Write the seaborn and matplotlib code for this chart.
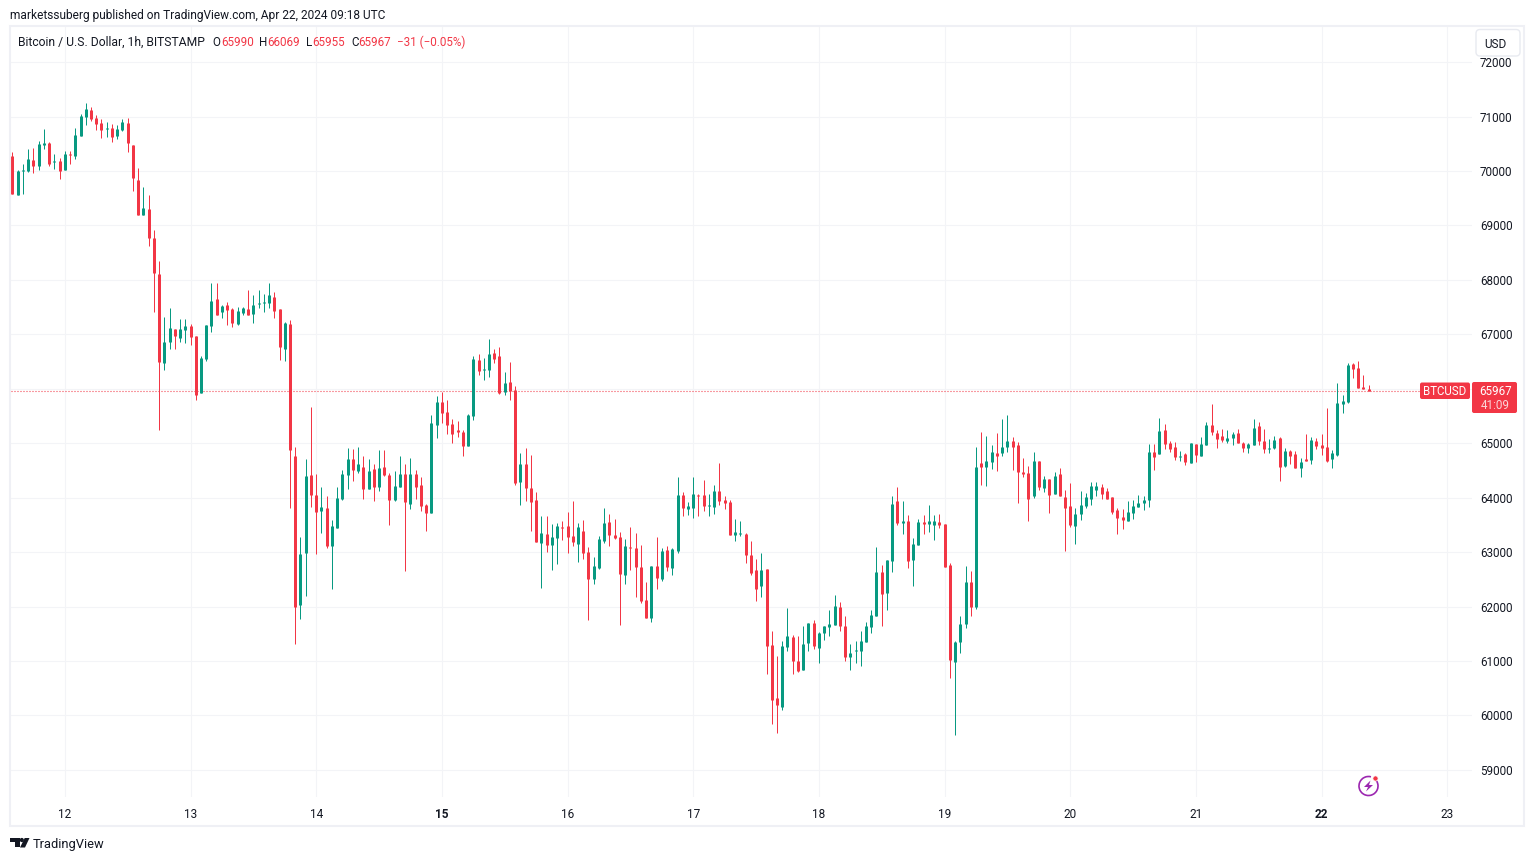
import matplotlib
matplotlib.use("Agg")
import matplotlib.pyplot as plt
from matplotlib.patches import FancyBboxPatch, Polygon, Circle, Rectangle, Arc
from matplotlib.transforms import ScaledTranslation
import numpy as np
import pandas as pd
import seaborn as sns

# Hourly BTC/USD candles, first candle = 10 hours before the "12" day tick
opens = [
70274,69558,69999,69999,70201,70091,70477,70513,70164,70183,
70017,70311,70274,70642,70991,71119,70972,70881,70770,70789,
70642,70752,70881,70477,69834,69191,69301,68768,68107,66473,
66858,67097,66932,67079,67152,66968,65922,66546,67152,67648,
67409,67538,67464,67189,67391,67464,67373,67556,67575,67575,
67685,67464,66730,67189,64765,62028,62983,64416,64048,63754,
63809,63112,63442,63975,64416,64709,64489,64562,64158,64526,
64195,64562,64416,63956,64195,64434,63883,64434,64232,63865,
63718,65334,65756,65573,65352,65242,65205,64948,65499,66528,
66344,66344,66656,66601,65940,66124,65977,64287,64618,64177,
63957,63167,63332,63130,63259,63461,63479,63295,63149,63387,
63002,62506,62708,63204,63553,63314,63277,62579,63093,63075,
62726,62120,61789,62745,62506,63038,62708,63020,64049,63791,
63810,64049,64049,63846,63828,64122,63957,63920,63315,63333,
63333,62947,62672,62378,62690,61294,60321,60156,61258,61441,
61000,60835,61331,61698,61239,61515,61625,61662,61992,61643,
61074,61184,61184,61349,61625,61827,62635,62249,62837,63939,
63535,63572,62855,63131,63553,63517,63498,63553,63517,62764,
60982,61349,61680,62450,62000,64637,64563,64655,64820,64820,
64930,65041,64967,64471,64453,64030,64673,64177,64343,64067,
64435,64012,63847,63480,63700,63847,63975,64141,64196,64122,
64012,63773,63645,63571,63718,63828,63902,63957,64839,64802,
65242,65004,64930,64746,64802,64636,64985,64765,64967,65334,
65187,65132,65040,65095,65187,65004,64912,64967,65316,65040,
64893,64912,65095,64581,64857,64802,64544,64710,64691,65040,
64967,64930,64710,64783,65720,65757,66455,66381,66032,65990]

highs = [
70348,70017,70128,70403,70421,70550,70770,70532,70311,70238,
70366,70366,70789,71046,71248,71174,71027,70954,70899,70862,
70844,70954,70972,70477,70054,69705,69558,68915,68346,67318,
67483,67097,67281,67281,67189,66968,66601,67171,67942,67942,
67538,67593,67483,67501,67501,67813,67721,67813,67740,67942,
67777,67464,67226,67262,64930,63277,64709,65664,64434,64195,
64030,63589,64195,64507,64911,64893,64930,64765,64709,64618,
64875,64875,64452,64489,64765,64618,64728,64507,64379,63883,
65518,65866,65940,65793,65444,65407,65242,65536,66601,66638,
66564,66913,66730,66766,66307,66491,66050,64820,64912,64783,
64104,63663,63663,63516,63534,63571,63736,63938,63534,63589,
63093,62910,63295,63810,63700,63608,63369,63240,63461,63351,
63130,62451,62745,63277,63075,63112,63075,64379,64104,63920,
64379,64067,64324,64067,64232,64636,64030,63957,63608,63572,
63351,63204,62874,62984,62690,61551,61092,61368,61974,61478,
61460,61643,61698,61753,61533,61643,61937,62213,62084,61827,
61313,61368,61551,61717,61937,63094,62764,62855,64031,64196,
63939,63682,63259,63608,63682,63865,63682,63700,63517,62800,
61368,61818,62745,62650,64930,65206,65132,64967,65188,65445,
65518,65114,65022,64728,64581,64839,64673,64398,64343,64471,
64545,64141,64269,63810,64122,64086,64288,64288,64251,64177,
64012,63810,63792,63939,63957,64049,64030,64986,64986,65463,
65353,65040,65022,64857,64820,65004,64985,65114,65389,65720,
65242,65261,65242,65206,65261,65022,65004,65444,65389,65261,
65077,65132,65114,64912,64875,64857,64728,65169,65114,65095,
65169,65646,64875,66106,65885,66473,66473,66510,66252,66069]

lows = [
69577,69558,69577,69981,69962,70017,70403,70091,70036,69852,
70017,70128,70219,70642,70844,70917,70752,70605,70623,70532,
70587,70734,70348,69632,69191,69191,68621,67409,65242,66344,
66730,66730,66858,66840,66803,65793,65922,66509,67042,67354,
67299,67171,67134,67171,67354,67354,67207,67483,67409,67483,
67299,66528,66509,63809,61312,61771,62193,63828,62965,63350,
63075,62322,63442,63956,64158,64305,64452,63975,64158,63938,
64122,64397,63497,63938,64195,62652,63791,63975,63754,63387,
63718,65095,65371,65169,65003,65113,64765,64948,65426,66252,
66160,66215,66473,65903,65885,65793,64232,63865,63938,63387,
63185,62340,63002,62671,62781,63222,62983,63112,62818,62873,
61753,62414,62689,63167,63112,63240,61661,62414,62671,62175,
62065,61789,61716,62322,62469,62653,62579,62983,63663,63681,
63626,63663,63755,63663,63700,63865,63791,63314,63204,63296,
62800,62580,62102,62176,60762,59843,59678,60100,61184,60762,
60798,60835,61184,61221,60964,61386,61460,61662,61551,61000,
60835,60964,60909,61349,61515,61827,61643,61937,62635,63498,
63333,62708,62378,63131,63333,63370,63223,63443,62727,60688,
59641,61150,61600,61820,61950,64233,64214,64526,64490,64765,
64839,64508,63902,64379,63571,63994,64141,64104,63718,64067,
64030,63020,63461,63149,63590,63810,63865,64030,63975,63975,
63700,63333,63424,63571,63608,63828,63773,63828,64508,64802,
64893,64838,64691,64673,64600,64636,64655,64765,64967,65151,
64912,65022,65004,64967,65004,64838,64820,64967,64967,64820,
64820,64893,64306,64563,64618,64544,64379,64673,64618,64893,
64783,64655,64544,64765,65555,65738,66197,66014,65995,65955]

closes = [
69577,69999,70017,70219,70091,70495,70513,70128,70183,69999,
70311,70293,70660,71009,71138,70954,70862,70752,70789,70623,
70770,70899,70513,69870,69191,69319,68768,68126,66491,66858,
67115,66968,67097,67152,66950,65885,66564,67171,67611,67354,
67519,67446,67207,67428,67483,67354,67538,67575,67593,67721,
67428,66766,67207,64875,61991,62965,64397,64048,63736,63828,
63112,63479,63993,64434,64709,64507,64618,64158,64489,64195,
64544,64416,63956,64214,64434,63920,64434,64195,63846,63718,
65371,65756,65554,65334,65169,65205,64948,65518,66546,66326,
66362,66638,66546,65922,66105,65958,64269,64618,64177,63920,
63185,63351,63130,63277,63479,63442,63277,63185,63461,62983,
62506,62745,63240,63534,63314,63259,62598,63112,63075,62726,
62102,61789,62745,62524,63020,62726,63057,64049,63810,63846,
64067,64030,63846,63865,64122,63938,63902,63314,63370,63351,
62947,62617,62323,62672,61276,60284,60192,61276,61460,61000,
60817,61313,61698,61276,61515,61643,61680,62011,61643,61074,
61147,61202,61368,61643,61845,62635,62231,62855,63884,63535,
63572,62837,63149,63553,63517,63572,63572,63498,62727,61019,
61349,61680,62450,62000,64563,64563,64673,64839,64765,64930,
65041,64930,64471,64435,63975,64673,64196,64343,64049,64398,
64030,63810,63498,63700,63865,64012,64214,64214,64067,63975,
63737,63626,63590,63737,63847,63902,63957,64839,64747,65224,
64985,64893,64746,64765,64655,65004,64783,64985,65334,65206,
65077,65059,65095,65169,65004,64912,64985,65279,65040,64893,
64912,65059,64563,64857,64765,64544,64655,64673,65059,64948,
64912,64673,64820,65738,65775,66436,66363,66014,65995,65967]

day_labels = [12, 13, 14, 15, 16, 17, 18, 19, 20, 21, 22, 23]
bold_days = [15, 22]
price_ticks = [59000, 60000, 61000, 62000, 63000, 64000, 65000,
               66000, 67000, 68000, 69000, 70000, 71000, 72000]
first_hour = -10
last_price = closes[-1]

UP, DOWN = "#089981", "#F23645"
GRID, FRAME, INK = "#f3f4f7", "#eff0f5", "#131722"
W, H = 1534, 862

sns.set_theme(style="white")
plt.rcParams["font.family"] = ["Roboto", "DejaVu Sans"]

hours = np.arange(len(opens)) + first_hour
df = pd.DataFrame({"hour": hours, "open": opens, "high": highs, "low": lows, "close": closes})
df["dir"] = np.where(df["close"] >= df["open"], "up", "down")
palette = {"up": UP, "down": DOWN}

wicks = df.melt(id_vars=["hour", "dir"], value_vars=["high", "low"], value_name="price")
bodies = df.melt(id_vars=["hour", "dir"], value_vars=["open", "close"], value_name="price")

fig = plt.figure(figsize=(W / 100, H / 100), dpi=100, facecolor="white")
L, R, T, B = 11, 1472, 28, 798
ax = fig.add_axes([L / W, 1 - B / H, (R - L) / W, (B - T) / H])

for frame, lw in ((wicks, 0.72), (bodies, 2.16)):
    sns.lineplot(data=frame, x="hour", y="price", hue="dir", units="hour", estimator=None,
                 palette=palette, linewidth=lw, legend=False, ax=ax, zorder=3,
                 solid_capstyle="butt", sort=False)

# px -> data scale
ax.set_xlim(-10.28, 268.72)
ax.set_ylim(58503, 72644)
ax.set_xlabel("")
ax.set_ylabel("")
for s in ax.spines.values():
    s.set_visible(False)
ax.set_axisbelow(True)
ax.grid(True, color=GRID, linewidth=0.8)

ax.axhline(last_price, xmin=0, xmax=(1420 - L) / (R - L), color=DOWN, linewidth=0.8,
           linestyle=(0, (0.9, 1.8)), zorder=2, dash_capstyle="butt")

ax.set_xticks([24 * (d - 12) for d in day_labels])
ax.set_xticklabels([str(d) for d in day_labels], fontsize=8.5, color=INK)
for lab, d in zip(ax.get_xticklabels(), day_labels):
    if d in bold_days:
        lab.set_fontweight("bold")
ax.yaxis.tick_right()
ax.set_yticks(price_ticks)
ax.set_yticklabels([str(p) for p in price_ticks], fontsize=8.4, color=INK)
ax.tick_params(axis="x", length=0, pad=7.4)
ax.tick_params(axis="y", length=0, pad=5.6)
up_1px = ScaledTranslation(0, 1 / 100, fig.dpi_scale_trans)
for lab in ax.get_yticklabels():
    lab.set_transform(lab.get_transform() + up_1px)

# chrome layer in pixel coordinates
ov = fig.add_axes([0, 0, 1, 1], zorder=5)
ov.set_xlim(0, W)
ov.set_ylim(H, 0)
ov.axis("off")
ov.patch.set_alpha(0)

ov.add_patch(Rectangle((10, 27), 1514, 800, fill=False, edgecolor=FRAME, linewidth=1.5))

def label(x, y, s, color=INK, size=8.5, ha="left", weight="normal"):
    ov.text(x, y, s, color=color, fontsize=size, ha=ha, va="center", fontweight=weight)

label(10, 15, "marketssuberg published on TradingView.com, Apr 22, 2024 09:18 UTC", size=8.58)
label(18, 42, "Bitcoin / U.S. Dollar, 1h, BITSTAMP", size=8.73)
for x, s, c in [(212, "O", INK), (221, "65990", DOWN), (259, "H", INK), (267.5, "66069", DOWN),
                (306, "L", INK), (312.5, "65955", DOWN), (351, "C", INK), (358, "65967", DOWN),
                (397, "\u221231 (\u22120.05%)", DOWN)]:
    label(x, 42, s, color=c, size=8.4)

# USD button
ov.add_patch(FancyBboxPatch((1476, 30.5), 44, 26.5, boxstyle="round,pad=0,rounding_size=4",
                            facecolor="white", edgecolor="#e8eaf0", linewidth=1))
label(1495, 44.5, "USD", ha="center", size=8.5)

# last price labels
ov.add_patch(FancyBboxPatch((1420, 383.5), 50, 16.5, boxstyle="round,pad=0,rounding_size=2",
                            facecolor=DOWN, edgecolor="none"))
ov.add_patch(FancyBboxPatch((1472, 383), 45, 31, boxstyle="round,pad=0,rounding_size=2",
                            facecolor=DOWN, edgecolor="none"))
label(1445, 391.7, "BTCUSD", color="white", ha="center", size=8.3)
label(1495.5, 391.7, f"{last_price}", color="white", ha="center", size=8.4)
label(1495.5, 405.5, "41:09", color="#fbd5d9", ha="center", size=8.4)

# footer logo
ov.add_patch(Polygon([(10, 839), (19.5, 839), (19.5, 848.5), (15, 848.5), (15, 843), (10, 843)],
                     closed=True, facecolor=INK, edgecolor="none"))
ov.add_patch(Circle((21.8, 841), 2.1, facecolor=INK, edgecolor="none"))
ov.add_patch(Polygon([(24.7, 839), (29.5, 839), (25, 848.5), (20, 848.5)],
                     closed=True, facecolor=INK, edgecolor="none"))
label(33, 845, "TradingView", size=9.3)

# bolt badge
PURPLE = "#9c27b0"
ov.add_patch(Arc((1368.5, 787), 19, 19, theta1=-35, theta2=285, color=PURPLE, linewidth=1.2))
ov.add_patch(Polygon([(1370.5, 781.5), (1364, 788), (1368, 788), (1366, 792.5), (1373, 786),
                      (1369, 786)], closed=True, facecolor=PURPLE, edgecolor="none"))
ov.add_patch(Circle((1375.5, 779.5), 2.6, facecolor=DOWN, edgecolor="white", linewidth=0.5))

fig.savefig("out.png", dpi=100, facecolor="white")
